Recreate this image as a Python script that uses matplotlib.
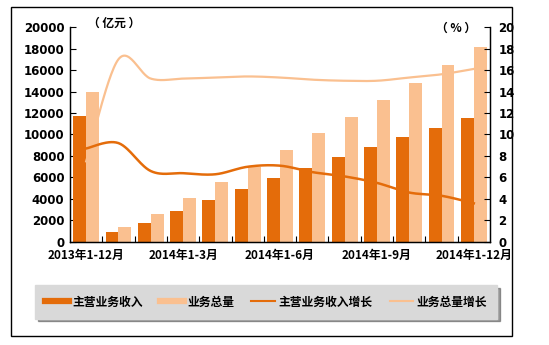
import numpy as np
import matplotlib.pyplot as plt
from matplotlib.lines import Line2D
from matplotlib.patches import Rectangle

plt.rcParams['font.family'] = ['Noto Sans CJK SC', 'DejaVu Sans']

periods = ['2013年1-12月', '2014年1月', '2014年1-2月', '2014年1-3月', '2014年1-4月',
           '2014年1-5月', '2014年1-6月', '2014年1-7月', '2014年1-8月', '2014年1-9月',
           '2014年1-10月', '2014年1-11月', '2014年1-12月']
income = [11700, 950, 1770, 2880, 3900, 4930, 5950, 6880, 7900, 8840, 9770, 10600, 11540]
volume = [13950, 1400, 2600, 4090, 5580, 6950, 8560, 10140, 11630, 13210, 14790, 16470, 18150]
income_growth = [8.7, 9.2, 6.6, 6.4, 6.3, 7.0, 7.1, 6.5, 6.1, 5.5, 4.6, 4.3, 3.6]
volume_growth = [7.5, 17.0, 15.2, 15.2, 15.3, 15.4, 15.3, 15.1, 15.0, 15.0, 15.3, 15.6, 16.1]

dark = '#E46C0A'
light = '#FAC090'


def smooth(x, y, n=30):
    # excel style smoothed line (catmull-rom bezier)
    x = np.asarray(x, float)
    y = np.asarray(y, float)
    px = np.concatenate([[x[0]], x, [x[-1]]])
    py = np.concatenate([[y[0]], y, [y[-1]]])
    xs, ys = [], []
    t = np.linspace(0, 1, n)
    for i in range(1, len(px) - 2):
        p0 = np.array([px[i], py[i]])
        p3 = np.array([px[i + 1], py[i + 1]])
        c1 = p0 + (np.array([px[i + 1], py[i + 1]]) - np.array([px[i - 1], py[i - 1]])) / 6
        c2 = p3 - (np.array([px[i + 2], py[i + 2]]) - np.array([px[i], py[i]])) / 6
        b = ((1 - t) ** 3)[:, None] * p0 + (3 * (1 - t) ** 2 * t)[:, None] * c1 \
            + (3 * (1 - t) * t ** 2)[:, None] * c2 + (t ** 3)[:, None] * p3
        xs.extend(b[:, 0])
        ys.extend(b[:, 1])
    return xs, ys


fig = plt.figure(figsize=(5.49, 3.45), dpi=100)
ax = fig.add_axes([0.1275, 0.2986, 0.765, 0.6231])
ax2 = ax.twinx()

x = np.arange(len(periods))
ax.bar(x - 0.2, income, 0.4, color=dark, zorder=2)
ax.bar(x + 0.2, volume, 0.4, color=light, zorder=2)

sx, sy = smooth(x, volume_growth)
ax2.plot(sx, sy, color=light, lw=1.6)
sx, sy = smooth(x, income_growth)
ax2.plot(sx, sy, color=dark, lw=1.8)

ax.set_xlim(-0.5, len(periods) - 0.5)
ax.set_ylim(0, 20000)
ax2.set_ylim(0, 20)
ax.set_yticks(np.arange(0, 20001, 2000))
ax2.set_yticks(np.arange(0, 21, 2))

ax.set_xticks(np.arange(0.5, len(periods) - 1, 1))
ax.set_xticklabels([])
ax.set_xticks([0, 3, 6, 9, 12], minor=True)
ax.set_xticklabels([periods[i] for i in [0, 3, 6, 9, 12]], minor=True,
                   fontsize=8.5, fontweight='bold')
ax.tick_params(axis='x', which='major', direction='in', length=4, width=0.8)
ax.tick_params(axis='x', which='minor', length=0, pad=5)
ax.tick_params(axis='y', direction='in', length=4, width=0.8, pad=4)
ax2.tick_params(axis='y', direction='in', length=4, width=0.8, pad=6)
for lab in ax.get_yticklabels() + ax2.get_yticklabels():
    lab.set_family('DejaVu Sans')
    lab.set_fontsize(8.5)
    lab.set_fontweight('bold')

for a in (ax, ax2):
    a.spines['top'].set_visible(False)
    for s in ('left', 'bottom', 'right'):
        a.spines[s].set_linewidth(0.9)

fig.text(0.16, 0.933, '（ 亿元 ）', fontsize=8.5, fontweight='bold', ha='left', va='center')
fig.text(0.83, 0.918, '（ % ）', fontsize=8.5, fontweight='bold', ha='center', va='center')

handles = [Line2D([], [], color=dark, lw=4.5),
           Line2D([], [], color=light, lw=4.5),
           Line2D([], [], color=dark, lw=1.5),
           Line2D([], [], color=light, lw=1.5)]
labels = ['主营业务收入', '业务总量', '主营业务收入增长', '业务总量增长']
leg = fig.legend(handles, labels, ncol=4, loc='center', bbox_to_anchor=(0.485, 0.1246),
                 prop={'size': 8.5, 'weight': 'bold'}, frameon=True, fancybox=False,
                 shadow=True, facecolor='#d9d9d9', edgecolor='#d9d9d9', framealpha=1,
                 handlelength=2.0, handletextpad=0.3, columnspacing=1.45, borderpad=0.85)

fig.patches.append(Rectangle((0.02, 0.026), 0.9126, 0.9536, transform=fig.transFigure,
                             fill=False, edgecolor='black', lw=1.0))

plt.savefig('out.png', dpi=100)
plt.close(fig)
